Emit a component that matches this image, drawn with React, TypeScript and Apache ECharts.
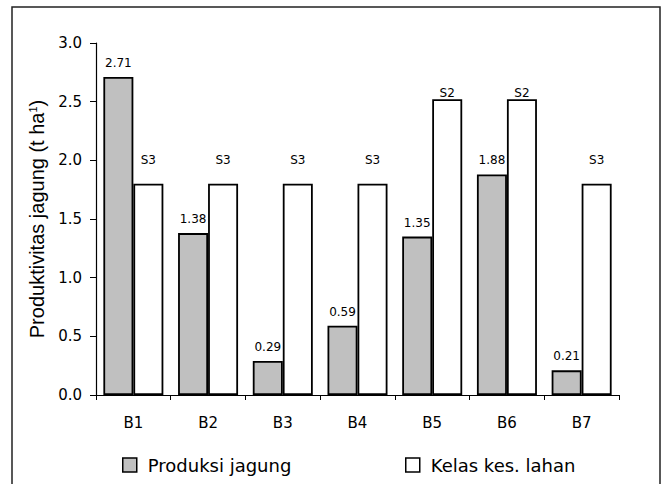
import React, { useEffect, useRef } from "react";
import * as echarts from "echarts";

const categories = ["B1", "B2", "B3", "B4", "B5", "B6", "B7"];
const produksi = [2.71, 1.38, 0.29, 0.59, 1.35, 1.88, 0.21];
const kelasValues = [1.8, 1.8, 1.8, 1.8, 2.52, 2.52, 1.8];
const kelasLabels = ["S3", "S3", "S3", "S3", "S2", "S2", "S3"];
const yTicks = { min: 0, max: 3, interval: 0.5 };
const seriesNames = ["Produksi jagung", "Kelas kes. lahan"];

export default function App() {
  const ref = useRef<HTMLDivElement>(null);
  useEffect(() => {
    if (!ref.current) return;
    const chart = echarts.init(ref.current, null, { renderer: "svg" });
    const font = "DejaVu Sans";
    const legendBase = {
      icon: "rect",
      top: 451,
      itemWidth: 14,
      itemHeight: 14,
      itemStyle: { borderColor: "#000", borderWidth: 1.5 },
      textStyle: { fontFamily: font, fontSize: 18, color: "#000", padding: [0, 0, 0, 6] },
    };
    chart.setOption({
      animation: false,
      backgroundColor: "#fff",
      textStyle: { fontFamily: font, color: "#000" },
      graphic: [
        {
          type: "rect",
          shape: { x: 12, y: 7, width: 648, height: 500 },
          style: { fill: "none", stroke: "#222", lineWidth: 1.5 },
          silent: true,
        },
      ],
      grid: { left: 96, right: 45, top: 43, bottom: 89 },
      legend: [
        { ...legendBase, data: [seriesNames[0]], left: 117 },
        { ...legendBase, data: [seriesNames[1]], left: 400 },
      ],
      xAxis: {
        type: "category",
        data: categories,
        axisLine: { lineStyle: { color: "#000", width: 1.2 } },
        axisTick: { show: true, length: 5, lineStyle: { color: "#000" } },
        axisLabel: { fontFamily: font, fontSize: 15, color: "#000", margin: 20 },
      },
      yAxis: {
        type: "value",
        min: yTicks.min,
        max: yTicks.max,
        interval: yTicks.interval,
        name: "Produktivitas jagung (t ha{sup|1})",
        nameLocation: "middle",
        nameGap: 47,
        nameTextStyle: {
          fontFamily: "Liberation Sans",
          fontSize: 20,
          color: "#000",
          rich: {
            sup: { fontFamily: "Liberation Sans", fontSize: 11, color: "#000", verticalAlign: "top", padding: [0, 0, 8, 0] },
          },
        },
        axisLine: { show: true, lineStyle: { color: "#000", width: 1.2 } },
        axisTick: { show: true, length: 6, lineStyle: { color: "#000" } },
        splitLine: { show: false },
        axisLabel: {
          fontFamily: font,
          fontSize: 15,
          color: "#000",
          margin: 14,
          formatter: (v: number) => v.toFixed(1),
        },
      },
      series: [
        {
          name: seriesNames[0],
          type: "bar",
          data: produksi,
          barWidth: 30,
          barGap: "0%",
          itemStyle: { color: "#c0c0c0", borderColor: "#000", borderWidth: 1.8 },
          label: {
            show: true,
            position: "top",
            distance: 8,
            fontFamily: font,
            fontSize: 12,
            color: "#000",
            formatter: (p: any) => p.value.toFixed(2),
          },
        },
        {
          name: seriesNames[1],
          type: "bar",
          data: kelasValues.map((v, i) => ({
            value: v,
            label: { distance: kelasLabels[i] === "S2" ? 0 : 18 },
          })),
          barWidth: 30,
          barGap: "0%",
          itemStyle: { color: "#fff", borderColor: "#000", borderWidth: 1.8 },
          label: {
            show: true,
            position: "top",
            fontFamily: font,
            fontSize: 12,
            color: "#000",
            formatter: (p: any) => kelasLabels[p.dataIndex],
          },
        },
      ],
    });
    return () => chart.dispose();
  }, []);
  return (
    <div
      ref={ref}
      style={{ position: "fixed", left: 0, top: 0, width: 664, height: 484, background: "#fff" }}
    />
  );
}
